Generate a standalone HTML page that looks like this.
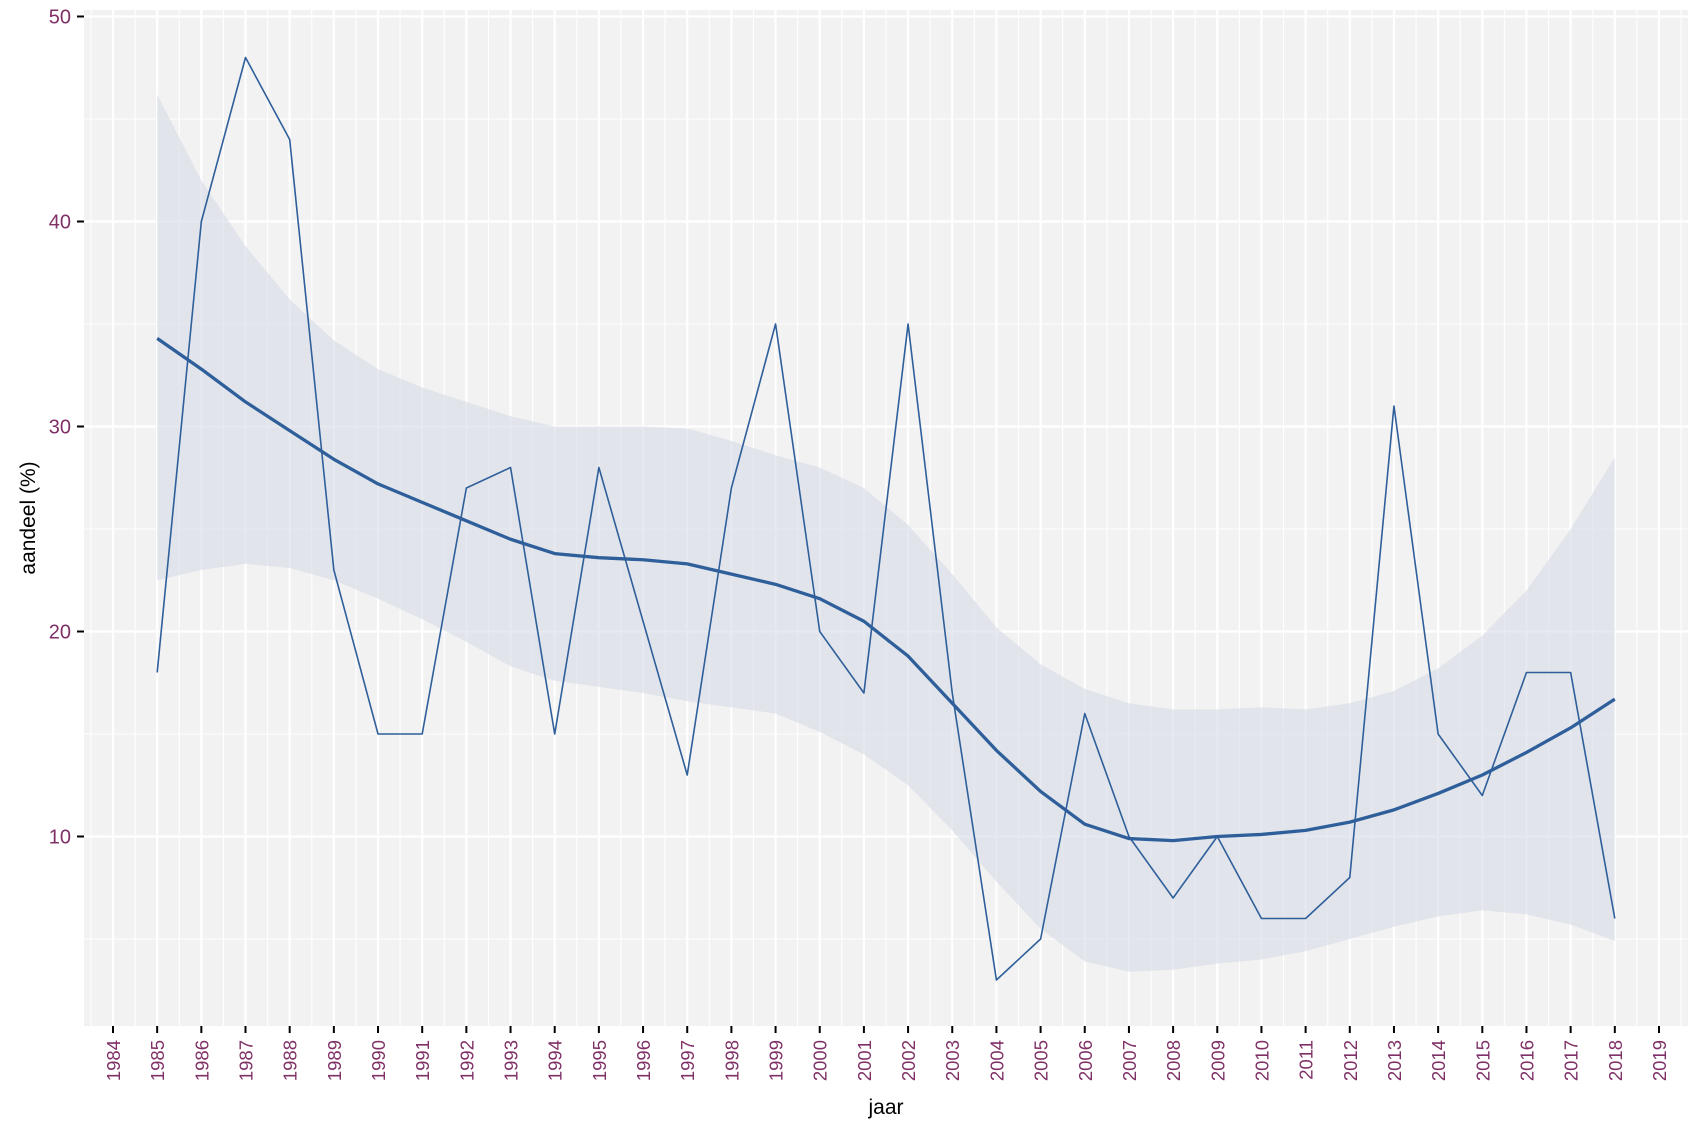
<!DOCTYPE html>
<html><head><meta charset="utf-8"><style>
body{margin:0;background:#fff;}
svg{display:block;font-family:"Liberation Sans",sans-serif;}
</style></head><body>
<svg id="chart" width="1700" height="1133" xmlns="http://www.w3.org/2000/svg">
<rect x="84" y="10" width="1604" height="1016" fill="#f2f2f2"/>
<g id="grid"></g>
<g id="ribbon"></g>
<g id="lines"></g>
<g id="axes"></g>
<text x="35" y="518" transform="rotate(-90 35 518)" text-anchor="middle" font-size="21" fill="#000">aandeel (%)</text>
<text x="886" y="1114" text-anchor="middle" font-size="21" fill="#000">jaar</text>
</svg>
<script>
const years=[1985,1986,1987,1988,1989,1990,1991,1992,1993,1994,1995,1996,1997,1998,1999,2000,2001,2002,2003,2004,2005,2006,2007,2008,2009,2010,2011,2012,2013,2014,2015,2016,2017,2018];
const values=[18,40,48,44,23,15,15,27,28,15,28,20.5,13,27,35,20,17,35,17,3,5,16,10,7,10,6,6,8,31,15,12,18,18,6];
const smooth=[34.3,32.8,31.2,29.8,28.4,27.2,26.3,25.4,24.5,23.8,23.6,23.5,23.3,22.8,22.3,21.6,20.5,18.8,16.5,14.2,12.2,10.6,9.9,9.8,10.0,10.1,10.3,10.7,11.3,12.1,13.0,14.1,15.3,16.7];
const upper=[46.2,42,38.8,36.2,34.2,32.8,31.9,31.2,30.5,30.0,30.0,30.0,29.9,29.3,28.6,28.0,27.0,25.2,22.8,20.2,18.4,17.2,16.5,16.2,16.2,16.3,16.2,16.5,17.1,18.2,19.8,22.0,25.0,28.5];
const lower=[22.5,23.0,23.3,23.1,22.5,21.6,20.6,19.5,18.3,17.6,17.3,17.0,16.6,16.3,16.0,15.1,14.0,12.5,10.3,7.8,5.5,3.9,3.4,3.5,3.8,4.0,4.4,5.0,5.6,6.1,6.4,6.2,5.7,4.9];
const yTicks=[10,20,30,40,50];
const xTicks=[];for(let y=1984;y<=2019;y++)xTicks.push(y);

const NS="http://www.w3.org/2000/svg";
const X=v=>113+(v-1984)*44.171;
const Y=v=>16.5+(50-v)*20.5;
function mk(tag,attrs,parent){const e=document.createElementNS(NS,tag);for(const k in attrs)e.setAttribute(k,attrs[k]);document.getElementById(parent).appendChild(e);return e;}
for(let v=5;v<=50;v+=5){const e=mk('line',{x1:84,x2:1688,y1:Y(v),y2:Y(v),stroke:'#fff','stroke-width':v%10===0?2.2:1.1},'grid');

}
for(let v=1983.5;v<=2019.5;v+=0.5){const x=X(v);if(x<84||x>1688)continue;const e=mk('line',{x1:x,x2:x,y1:10,y2:1026,stroke:'#fff','stroke-width':Number.isInteger(v)?2.2:1.1},'grid');

}
let d='M'+years.map((y,i)=>X(y)+','+Y(upper[i])).join('L');
for(let i=years.length-1;i>=0;i--)d+='L'+X(years[i])+','+Y(lower[i]);
const rb=mk('path',{d:d+'Z',fill:'#d5dbe6','fill-opacity':0.6},'ribbon');


const ln=mk('polyline',{points:years.map((y,i)=>X(y)+','+Y(values[i])).join(' '),fill:'none',stroke:'#2f5f9a','stroke-width':1.6,'stroke-linejoin':'round'},'lines');


const sm=mk('polyline',{points:years.map((y,i)=>X(y)+','+Y(smooth[i])).join(' '),fill:'none',stroke:'#2f5f9a','stroke-width':3.3,'stroke-linejoin':'round'},'lines');


yTicks.forEach(v=>{const t=mk('line',{x1:77,x2:84,y1:Y(v),y2:Y(v),stroke:'#000','stroke-width':2},'axes');


const l=mk('text',{x:71,y:Y(v)+7,'text-anchor':'end','font-size':20,fill:'#7f3066'},'axes');l.textContent=v;

});
xTicks.forEach(v=>{const x=X(v);const t=mk('line',{x1:x,x2:x,y1:1026,y2:1033,stroke:'#000','stroke-width':2},'axes');


const l=mk('text',{x:x+7,y:1040,'text-anchor':'end','font-size':18.5,fill:'#7f3066',transform:`rotate(-90 ${x+7} 1040)`},'axes');l.textContent=v;

});
</script>
</body></html>
